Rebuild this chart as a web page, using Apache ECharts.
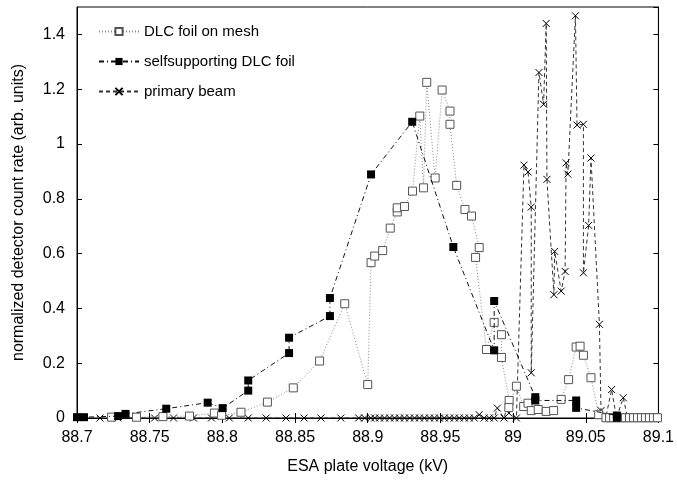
<!DOCTYPE html>
<html>
<head>
<meta charset="utf-8">
<title>ESA scan</title>
<script src="https://cdn.jsdelivr.net/npm/echarts@6/dist/echarts.min.js"></script>
<style>
    html, body { margin: 0; padding: 0; background: #fff; }
    #chart { width: 677px; height: 484px; }
</style>
</head>
<body>
<div id="chart"></div>
<script>
var seriesNames = ['DLC foil on mesh', 'selfsupporting DLC foil', 'primary beam'];

// DLC foil on mesh
var meshX = [88.7238, 88.7409, 88.7591, 88.7774, 88.7945, 88.7995, 88.8128, 88.831, 88.8488, 88.8669,
    88.8842, 88.9, 88.9023, 88.9048, 88.9103, 88.9155, 88.9203, 88.9203, 88.9253, 88.9308,
    88.9358, 88.9384, 88.9406, 88.9464, 88.9512, 88.9566, 88.9566, 88.9612, 88.9669, 88.9714,
    88.9767, 88.9742, 88.9817, 88.987, 88.992, 88.992, 88.9973, 88.9971, 89.0023, 89.0073,
    89.0103, 89.0125, 89.0173, 89.0228, 89.0279, 89.0331, 89.0382, 89.0434, 89.0461, 89.0484,
    89.0536, 89.0589, 89.0639, 89.0664, 89.0692, 89.0719, 89.0747, 89.0774, 89.0801, 89.0829,
    89.0856, 89.0884, 89.0911, 89.0938, 89.0966, 89.0993];
var meshY = [0.003, 0.003, 0.005, 0.007, 0.018, 0.010, 0.021, 0.058, 0.110, 0.208,
    0.417, 0.122, 0.567, 0.591, 0.611, 0.693, 0.752, 0.767, 0.772, 0.828,
    1.102, 0.840, 1.225, 0.876, 1.197, 1.120, 1.072, 0.849, 0.761, 0.737,
    0.622, 0.586, 0.250, 0.349, 0.304, 0.221, 0.064, 0.038, 0.116, 0.042,
    0.054, 0.027, 0.031, 0.024, 0.027, 0.068, 0.140, 0.259, 0.262, 0.229,
    0.147, 0.012, 0.001, 0.001, 0.001, 0.001, 0.001, 0.001, 0.001, 0.001,
    0.001, 0.001, 0.001, 0.001, 0.001, 0.001];

// selfsupporting DLC foil
var selfX = [88.7, 88.7048, 88.7283, 88.7334, 88.7614, 88.7899, 88.8002, 88.8178, 88.8178, 88.8459,
    88.8459, 88.874, 88.874, 88.9023, 88.9306, 88.9589, 88.987, 88.987, 89.0153, 89.0153,
    89.0434, 89.0434, 89.0714, 89.0714];
var selfY = [0.003, 0.003, 0.007, 0.015, 0.034, 0.056, 0.036, 0.100, 0.137, 0.237,
    0.293, 0.372, 0.438, 0.889, 1.081, 0.624, 0.247, 0.427, 0.076, 0.064,
    0.064, 0.037, 0.009, 0.001];

// primary beam
var beamX = [88.7158, 88.7281, 88.7411, 88.7534, 88.7664, 88.7801, 88.7925, 88.8048, 88.8178, 88.8301,
    88.8438, 88.8562, 88.8678, 88.8815, 88.8938, 88.8979, 88.9021, 88.9048, 88.9082, 88.9116,
    88.9151, 88.9185, 88.9219, 88.9253, 88.9288, 88.9322, 88.9356, 88.939, 88.9425, 88.9459,
    88.9493, 88.9527, 88.9562, 88.9596, 88.963, 88.9664, 88.9699, 88.9733, 88.9767, 88.9801,
    88.9836, 88.987, 88.9892, 88.9938, 88.9971, 88.9971, 89.0023, 89.0075, 89.0103, 89.0125,
    89.0125, 89.0178, 89.021, 89.0228, 89.0233, 89.0281, 89.0286, 89.0331, 89.0358, 89.0365,
    89.0377, 89.0429, 89.044, 89.0484, 89.0484, 89.052, 89.0536, 89.0594, 89.0605, 89.0637,
    89.0678, 89.0712, 89.0758, 89.0788];
var beamY = [0, 0, 0, 0, 0, 0, 0, 0, 0, 0,
    0, 0, 0, 0, 0, 0, 0, 0, 0, 0,
    0, 0, 0, 0, 0, 0, 0, 0, 0, 0,
    0, 0, 0, 0, 0, 0, 0, 0, 0.012, 0,
    0, 0, 0.036, 0, 0.066, 0.018, 0, 0.923, 0.898, 0.770,
    0.165, 1.261, 1.145, 1.440, 0.871, 0.450, 0.608, 0.463, 0.535, 0.931,
    0.890, 1.468, 1.069, 1.072, 0.530, 0.703, 0.949, 0.342, 0.027, 0,
    0.104, 0, 0.074, 0];

var font = "'Liberation Sans', Arial, sans-serif";
var crossPath = 'path://M0,0L10,10M10,0L0,10';

function pairs(xs, ys) {
    var out = [];
    for (var i = 0; i < xs.length; i++) {
        out.push([xs[i], ys[i]]);
    }
    return out;
}

window.onload = function() {
    var chart = echarts.init(document.getElementById('chart'));
    var frameAxis = {
        axisLine: { show: true, lineStyle: { color: '#000', width: 1 } },
        axisTick: { show: true, inside: true, length: 5, lineStyle: { color: '#000' } },
        splitLine: { show: false }
    };
    chart.setOption({
        animation: false,
        textStyle: { fontFamily: font },
        grid: {
            left: 77,
            right: 16,
            top: 7,
            bottom: 66,
            show: true,
            borderColor: '#000',
            borderWidth: 1
        },
        legend: {
            data: seriesNames,
            orient: 'vertical',
            left: 93,
            top: 19,
            itemWidth: 40,
            itemHeight: 9,
            itemGap: 15,
            textStyle: { fontSize: 15, color: '#000', fontFamily: font }
        },
        xAxis: [Object.assign({
            type: 'value',
            min: 88.7,
            max: 89.1,
            interval: 0.05,
            name: 'ESA plate voltage (kV)',
            nameLocation: 'middle',
            nameGap: 41,
            nameTextStyle: { fontSize: 16, color: '#000', fontFamily: font },
            axisLabel: { fontSize: 16, color: '#000', margin: 12, fontFamily: font }
        }, frameAxis), Object.assign({
            type: 'value',
            position: 'top',
            min: 88.7,
            max: 89.1,
            interval: 0.05,
            axisLabel: { show: false }
        }, frameAxis)],
        yAxis: [Object.assign({
            type: 'value',
            min: 0,
            max: 1.5,
            interval: 0.2,
            name: 'normalized detector count rate (arb. units)',
            nameLocation: 'middle',
            nameGap: 50,
            nameTextStyle: { fontSize: 16, color: '#000', fontFamily: font },
            axisLabel: { fontSize: 16, color: '#000', margin: 12, showMaxLabel: false, fontFamily: font }
        }, frameAxis), Object.assign({
            type: 'value',
            position: 'right',
            min: 0,
            max: 1.5,
            interval: 0.2,
            axisLabel: { show: false }
        }, frameAxis)],
        series: [{
            name: seriesNames[0],
            type: 'line',
            data: pairs(meshX, meshY),
            symbol: 'rect',
            symbolSize: 8,
            itemStyle: { color: '#fff', borderColor: '#555', borderWidth: 1 },
            lineStyle: { color: '#888', width: 1, type: [1, 2] },
            z: 3
        }, {
            name: seriesNames[1],
            type: 'line',
            data: pairs(selfX, selfY),
            symbol: 'rect',
            symbolSize: 8,
            itemStyle: { color: '#000', borderColor: '#000', borderWidth: 0 },
            lineStyle: { color: '#111', width: 1, type: [5, 3, 1, 3] },
            z: 4
        }, {
            name: seriesNames[2],
            type: 'line',
            data: pairs(beamX, beamY),
            symbol: crossPath,
            symbolSize: 7,
            itemStyle: { color: 'transparent', borderColor: '#000', borderWidth: 1 },
            lineStyle: { color: '#333', width: 1, type: [4, 3] },
            z: 2
        }]
    });
};
</script>
</body>
</html>
